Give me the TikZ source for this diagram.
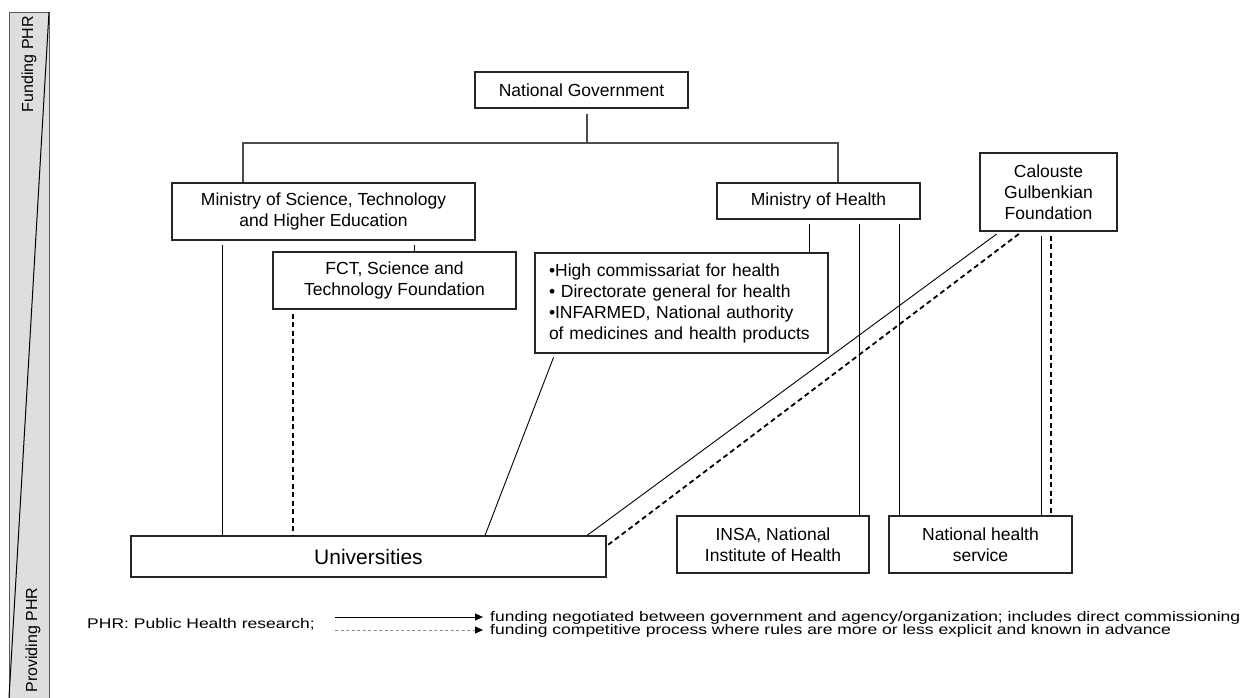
\documentclass[tikz,border=0pt]{standalone}
\usepackage{graphicx}
\usepackage{fontspec}
\setmainfont{Liberation Sans}
\usetikzlibrary{arrows.meta,calc}

\tikzset{
  orgbox/.style={draw=black!85, line width=1.1pt, align=center, inner sep=0pt,
    font=\fontsize{17.5}{21}\selectfont},
  tree/.style={draw=black!70, line width=1.4pt},
  negotiated/.style={draw=black, line width=0.9pt, shorten <=4pt},
  competitive/.style={draw=black, line width=1.8pt, dash pattern=on 5pt off 3.5pt, shorten <=4pt},
  legendtip/.style={-{Triangle[length=8pt,width=7pt,color=black]}},
  legendtext/.style={anchor=base west, inner sep=0pt, font=\fontsize{17.5}{21}\selectfont},
}
\newcommand{\squish}[1]{\scalebox{1}[0.8]{#1}}

\begin{document}
\begin{tikzpicture}[x=1pt,y=1pt,yscale=-1]
\useasboundingbox (0,0) rectangle (1251,697);

%Side bar
\draw [fill=black!13, draw=black!65, line width=1pt] (9,12) rectangle (49,698);
\draw [line width=1pt] (49,12) -- (9,698);
% Text Node
\node [rotate=90, font=\fontsize{16}{19}\selectfont] (funding) at (29,64) {Funding PHR};
% Text Node
\node [rotate=90, font=\fontsize{16}{19}\selectfont] (providing) at (33,640) {Providing PHR};

%Boxes
\node [orgbox, minimum width=213pt, minimum height=36pt] (ng) at (581.5,90) {National Government};
\node [orgbox, minimum width=303pt, minimum height=57pt] (msthe) at (323.5,211.5) {Ministry of Science, Technology\\and Higher Education};
\node [orgbox, minimum width=243pt, minimum height=57pt] (fct) at (394.5,280.5) {FCT, Science and\\Technology Foundation};
\node [orgbox, minimum width=203pt, minimum height=36pt] (moh) at (818.5,201) {Ministry of Health};
\node [orgbox, text width=265pt, align=left, inner xsep=14pt, minimum height=100pt] (agencies) at (681.5,303) {•High commissariat for health\\• Directorate general for health\\•INFARMED, National authority\\of medicines and health products};
\node [orgbox, minimum width=137pt, minimum height=78pt] (cgf) at (1048.5,192) {Calouste\\Gulbenkian\\Foundation};
\node [orgbox, minimum width=475pt, minimum height=41pt, font=\fontsize{21}{25}\selectfont] (univ) at (368.5,556.5) {Universities};
\node [orgbox, minimum width=192pt, minimum height=57pt] (insa) at (773,544.5) {INSA, National\\Institute of Health};
\node [orgbox, minimum width=183pt, minimum height=57pt] (nhs) at (980.5,544.5) {National health\\service};

%Tree lines
\coordinate (split) at (587,143);
\draw [tree, shorten <=5pt] (split |- ng.south) -- (split);
\draw [tree] ($(msthe.north)+(-80.5,0)$) |- (split) -| ($(moh.north)+(19.5,0)$);

%Straight Lines
\draw [negotiated] ($(msthe.south)+(90.5,0)$) -- ($(fct.north)+(19.5,0)$);
\draw [negotiated] ($(msthe.south)+(-101.5,0)$) -- ($(univ.north)+(-146.5,0)$);
\draw [competitive] ($(fct.south)+(-101.5,0)$) -- ($(univ.north)+(-75.5,0)$);
\draw [negotiated] ($(moh.south)+(-9.5,0)$) -- ($(agencies.north)+(127.5,0)$);
\draw [negotiated] ($(moh.south)+(40.5,0)$) -- ($(insa.north)+(86,0)$);
\draw [negotiated] ($(moh.south)+(80.5,0)$) -- ($(nhs.north)+(-81.5,0)$);
\draw [negotiated] ($(agencies.south)+(-126.5,0)$) -- ($(univ.north)+(116.5,0)$);
\draw [negotiated] ($(cgf.south)+(-48.5,0)$) -- ($(univ.north)+(218.5,0)$);
\draw [competitive] ($(cgf.south)+(-26.5,0)$) -- ($(univ.east)+(0,-10.5)$);
\draw [negotiated] ($(cgf.south)+(-7.5,0)$) -- ($(nhs.north)+(60.5,0)$);
\draw [competitive] ($(cgf.south)+(2.5,0)$) -- ($(nhs.north)+(70.5,0)$);

%Legend
\node [legendtext] (phr) at (87,628) {\squish{PHR: Public Health research;}};
\coordinate (neg0) at (335,617);
\coordinate (neg1) at (483,617);
\coordinate (comp0) at (335,630);
\coordinate (comp1) at (483,630);
\draw [legendtip, line width=0.9pt] (neg0) -- (neg1);
\draw [legendtip, draw=black!45, line width=1pt, dash pattern=on 3pt off 2.5pt] (comp0) -- (comp1);
\node [legendtext] (negtext) at (490,621) {\squish{funding negotiated between government and agency/organization; includes direct commissioning}};
\node [legendtext] (comptext) at (490,634) {\squish{funding competitive process where rules are more or less explicit and known in advance}};

\end{tikzpicture}
\end{document}
